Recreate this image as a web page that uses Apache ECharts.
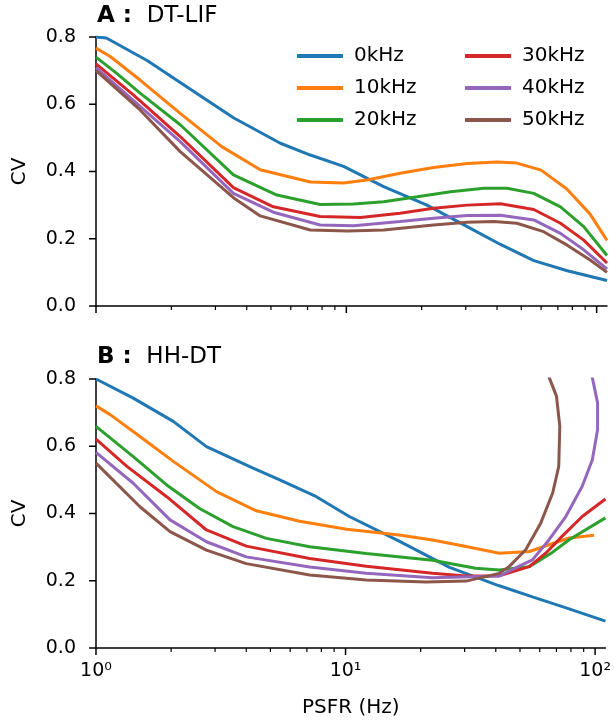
<!DOCTYPE html>
<html><head><meta charset="utf-8">
<script src="https://cdn.jsdelivr.net/npm/echarts@6/dist/echarts.min.js"></script>
<style>html,body{margin:0;padding:0;background:#fff}#c{width:614px;height:726px}</style>
</head><body><div id="c"></div>
<script>
// ---------- data (PSFR in Hz, CV) ----------
var seriesNames = ['0kHz', '10kHz', '20kHz', '30kHz', '40kHz', '50kHz'];
var colors = ['#1f77b4', '#ff7f0e', '#2ca02c', '#d62728', '#9467bd', '#8c564b'];
var majorTicks = [1, 10, 100];
var majorTickLabels = { 1: '10\u2070', 10: '10\u00b9', 100: '10\u00b2' };
var minorTicks = [2, 3, 4, 5, 6, 7, 8, 9, 20, 30, 40, 50, 60, 70, 80, 90];
var yTicks = [0, 0.2, 0.4, 0.6, 0.8];

// Panel A: DT-LIF
var A0_x = [1, 1.1, 1.6, 2.17, 3.54, 5.45, 7.18, 9.75, 14.1, 21.0, 30.4, 41.3, 56.1, 76.3, 110];
var A0_y = [0.80, 0.797, 0.73, 0.665, 0.56, 0.484, 0.449, 0.415, 0.355, 0.30, 0.236, 0.183, 0.135, 0.105, 0.076];
var A1_x = [1, 1.14, 1.5, 2.17, 3.18, 4.53, 7.18, 9.75, 12.1, 16.4, 22.3, 30.4, 40, 48, 60, 76, 94, 110];
var A1_y = [0.767, 0.742, 0.672, 0.573, 0.474, 0.405, 0.369, 0.366, 0.375, 0.395, 0.412, 0.424, 0.428, 0.425, 0.404, 0.348, 0.274, 0.195];
var A2_x = [1, 1.21, 1.5, 2.17, 3.54, 5.28, 7.86, 10.7, 14.1, 19.2, 26.1, 35.4, 43.9, 56.1, 71.7, 88.8, 110];
var A2_y = [0.74, 0.692, 0.633, 0.539, 0.39, 0.33, 0.302, 0.303, 0.31, 0.325, 0.34, 0.35, 0.35, 0.335, 0.295, 0.236, 0.15];
var A3_x = [1, 1.41, 2.17, 3.54, 5.11, 7.86, 11.4, 16.4, 22.3, 30.4, 41.3, 56.1, 71.7, 88.8, 110];
var A3_y = [0.72, 0.628, 0.504, 0.352, 0.295, 0.266, 0.263, 0.276, 0.291, 0.30, 0.304, 0.287, 0.246, 0.196, 0.128];
var A4_x = [1, 2.17, 3.54, 5.11, 7.86, 10.7, 16.4, 22.3, 30.4, 41.3, 56.1, 71.7, 88.8, 110];
var A4_y = [0.709, 0.489, 0.335, 0.279, 0.241, 0.239, 0.251, 0.261, 0.269, 0.27, 0.256, 0.216, 0.167, 0.11];
var A5_x = [1, 1.5, 2.17, 3.54, 4.53, 7.18, 10.1, 14.1, 22.3, 30.4, 38.9, 48, 61.4, 76.3, 94.2, 110];
var A5_y = [0.70, 0.583, 0.459, 0.322, 0.268, 0.226, 0.223, 0.226, 0.241, 0.249, 0.251, 0.246, 0.221, 0.181, 0.137, 0.10];

// Panel B: HH-DT
var B0_x = [1, 1.41, 2.04, 2.77, 4.26, 5.45, 7.64, 10.35, 16.4, 26.1, 41.3, 56.1, 76, 110];
var B0_y = [0.80, 0.743, 0.674, 0.599, 0.535, 0.50, 0.45, 0.391, 0.318, 0.24, 0.185, 0.152, 0.12, 0.08];
var B1_x = [1, 1.14, 1.5, 2.04, 3.04, 4.39, 6.55, 10.1, 16.4, 22.3, 30.4, 41.3, 54.5, 65.4, 78.7, 99];
var B1_y = [0.72, 0.694, 0.629, 0.555, 0.465, 0.408, 0.377, 0.353, 0.336, 0.321, 0.302, 0.282, 0.287, 0.307, 0.327, 0.335];
var B2_x = [1, 1.41, 1.92, 2.6, 3.54, 4.82, 7.18, 12.1, 22.3, 33.2, 41.3, 54.5, 67.6, 78.7, 110];
var B2_y = [0.659, 0.569, 0.485, 0.415, 0.361, 0.326, 0.301, 0.281, 0.261, 0.237, 0.232, 0.242, 0.285, 0.322, 0.387];
var B3_x = [1, 1.33, 1.92, 2.77, 4.0, 7.18, 12.1, 22.3, 30.4, 41.3, 54.5, 63.4, 73.7, 88.8, 110];
var B3_y = [0.621, 0.54, 0.45, 0.351, 0.303, 0.266, 0.243, 0.222, 0.214, 0.215, 0.242, 0.282, 0.332, 0.391, 0.443];
var B4_x = [1, 1.41, 1.98, 2.77, 4.0, 7.18, 12.1, 22.3, 41.3, 48, 56.1, 65.4, 76.3, 88.8, 97.5, 102.3, 102.3, 97.5, 95];
var B4_y = [0.582, 0.49, 0.381, 0.316, 0.271, 0.241, 0.222, 0.209, 0.214, 0.238, 0.262, 0.322, 0.391, 0.481, 0.56, 0.65, 0.729, 0.804, 0.84];
var B5_x = [1, 1.5, 1.98, 2.77, 4.0, 7.18, 12.1, 21.0, 30.4, 41.3, 45.2, 52.7, 60.6, 67.6, 71.5, 72.2, 70.0, 65.5, 63.5];
var B5_y = [0.55, 0.42, 0.346, 0.291, 0.251, 0.217, 0.202, 0.196, 0.199, 0.222, 0.242, 0.292, 0.372, 0.461, 0.54, 0.66, 0.749, 0.804, 0.84];

var panelA = [[A0_x, A0_y], [A1_x, A1_y], [A2_x, A2_y], [A3_x, A3_y], [A4_x, A4_y], [A5_x, A5_y]];
var panelB = [[B0_x, B0_y], [B1_x, B1_y], [B2_x, B2_y], [B3_x, B3_y], [B4_x, B4_y], [B5_x, B5_y]];

// ---------- chart ----------
var FONT = 'DejaVu Sans';
function zip(xs, ys) { return xs.map(function (x, i) { return [x, ys[i]]; }); }

var chart = echarts.init(document.getElementById('c'));

function xAx(gridIndex, showLabel, showName) {
  return {
    type: 'log', logBase: 10, min: 1, max: 110, gridIndex: gridIndex,
    axisLine: { show: true, lineStyle: { color: '#000', width: 1.5 } },
    axisTick: { show: false },
    splitLine: { show: false },
    axisLabel: {
      show: showLabel, showMaxLabel: false, margin: 14, color: '#000', fontFamily: FONT, fontSize: 19,
      formatter: function (v) {
        var k = Math.round(v);
        return (Math.abs(v - k) < 1e-6 && majorTickLabels[k]) ? majorTickLabels[k] : '';
      }
    },
    name: showName ? 'PSFR (Hz)' : '', nameLocation: 'middle', nameGap: 50,
    nameTextStyle: { color: '#000', fontFamily: FONT, fontSize: 20 }
  };
}
function yAx(gridIndex) {
  return {
    type: 'value', min: 0, max: 0.8, interval: 0.2, gridIndex: gridIndex,
    axisLine: { show: true, lineStyle: { color: '#000', width: 1.5 } },
    axisTick: { show: false },
    splitLine: { show: false },
    axisLabel: { margin: 20, color: '#000', fontFamily: FONT, fontSize: 19, formatter: function (v) { return v.toFixed(1); } },
    name: 'CV', nameLocation: 'middle', nameGap: 66, nameRotate: 90,
    nameTextStyle: { color: '#000', fontFamily: FONT, fontSize: 20 }
  };
}

var series = [];
panelA.forEach(function (p, i) {
  series.push({ name: seriesNames[i], type: 'line', xAxisIndex: 0, yAxisIndex: 0, data: zip(p[0], p[1]),
    showSymbol: false, symbol: 'none', clip: true, lineStyle: { width: 3, color: colors[i] }, itemStyle: { color: colors[i] } });
});
panelB.forEach(function (p, i) {
  series.push({ name: seriesNames[i], type: 'line', xAxisIndex: 1, yAxisIndex: 1, data: zip(p[0], p[1]),
    showSymbol: false, symbol: 'none', clip: true, lineStyle: { width: 3, color: colors[i] }, itemStyle: { color: colors[i] } });
});

// tick marks: positions come from the axes (api.coord), lengths are styling
function xTickSeries(g, values, len, w) {
  return {
    type: 'custom', xAxisIndex: g, yAxisIndex: g, silent: true, clip: false, z: 100,
    data: values.map(function (t) { return [t, 0]; }),
    renderItem: function (params, api) {
      var p = api.coord([api.value(0), api.value(1)]);
      return { type: 'line', shape: { x1: p[0], y1: p[1], x2: p[0], y2: p[1] + len },
        style: { stroke: '#000', lineWidth: w } };
    }
  };
}
function yTickSeries(g) {
  return {
    type: 'custom', xAxisIndex: g, yAxisIndex: g, silent: true, clip: false, z: 100,
    data: yTicks.map(function (v) { return [1, v]; }),
    renderItem: function (params, api) {
      var p = api.coord([api.value(0), api.value(1)]);
      return { type: 'line', shape: { x1: p[0] - 7, y1: p[1], x2: p[0], y2: p[1] },
        style: { stroke: '#000', lineWidth: 1.5 } };
    }
  };
}
[0, 1].forEach(function (g) {
  series.push(xTickSeries(g, majorTicks, 7, 1.5));
  series.push(xTickSeries(g, minorTicks, 4, 1.2));
  series.push(yTickSeries(g));
});

function legend(names, left) {
  return {
    data: names, orient: 'vertical', left: left, top: 41, itemWidth: 46, itemHeight: 4, itemGap: 12, icon: 'rect',
    selectedMode: false,
    textStyle: { color: '#000', fontFamily: FONT, fontSize: 20, lineHeight: 20, padding: [0, 0, 0, 6] }
  };
}

chart.setOption({
  animation: false,
  color: colors,
  title: [
    { text: '{b|A :}  DT-LIF', left: 92, top: 0, textStyle: { color: '#000', fontFamily: FONT, fontSize: 23, fontWeight: 'normal',
      rich: { b: { fontWeight: 'bold', fontFamily: FONT, fontSize: 23, color: '#000' } } } },
    { text: '{b|B :}  HH-DT', left: 92, top: 341, textStyle: { color: '#000', fontFamily: FONT, fontSize: 23, fontWeight: 'normal',
      rich: { b: { fontWeight: 'bold', fontFamily: FONT, fontSize: 23, color: '#000' } } } }
  ],
  legend: [legend(seriesNames.slice(0, 3), 292), legend(seriesNames.slice(3), 460)],
  grid: [
    { left: 96, top: 37, width: 511, height: 269 },
    { left: 96, top: 379, width: 511, height: 269 }
  ],
  xAxis: [xAx(0, false, false), xAx(1, true, true)],
  yAxis: [yAx(0), yAx(1)],
  series: series
});
</script></body></html>
